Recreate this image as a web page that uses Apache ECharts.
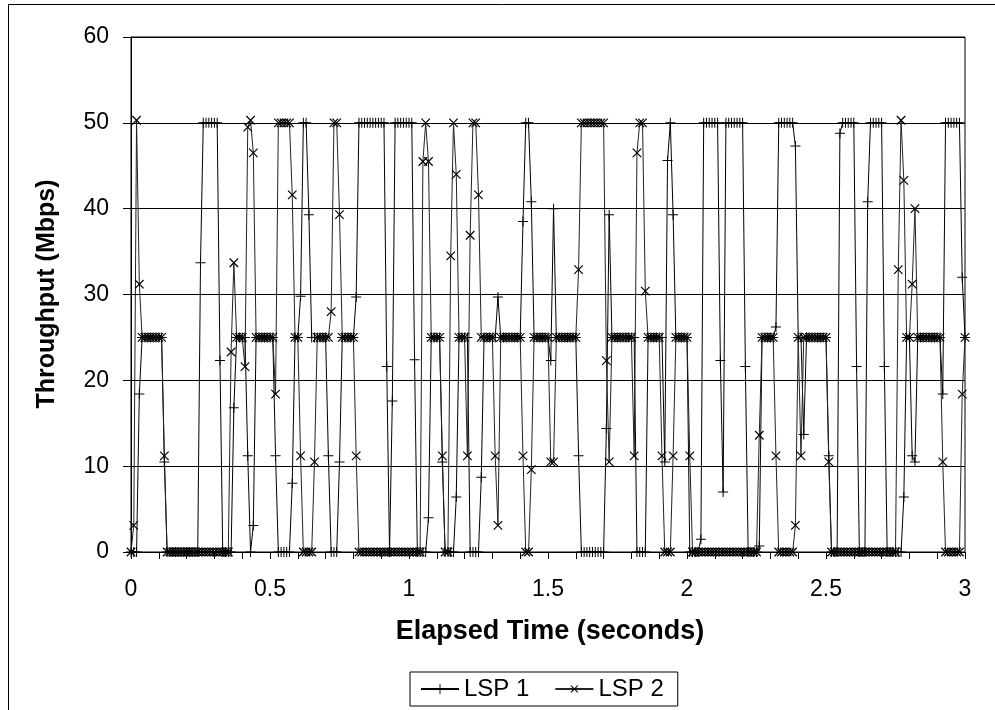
<!DOCTYPE html>
<html>
<head>
<meta charset="utf-8">
<script src="https://cdn.jsdelivr.net/npm/echarts@6/dist/echarts.min.js"></script>
<style>
html,body{margin:0;padding:0;background:#fff;}
#chart{width:995px;height:710px;}
</style>
</head>
<body>
<div id="chart"></div>
<script>
// Sample spacing (seconds) of the throughput measurements
const sampleStep = 0.01;

// LSP 1 throughput (Mbps), one value per sample, t = 0 .. 3.00 s
const lsp1 = [
  0,0,0,18.4,25,25,25,25,25,25,
  25,25,10.5,0,0,0,0,0,0,0,
  0,0,0,0,0,33.7,50,50,50,50,
  50,50,22.3,0,0,0,0,16.8,25,25,
  25,25,11.2,0,3.1,25,25,25,25,25,
  25,25,11.2,0,0,0,0,0,8,25,
  25,29.8,50,50,39.3,25,25,25,25,25,
  25,11.2,0,0,0,10.5,25,25,25,25,
  25,29.7,50,50,50,50,50,50,50,50,
  50,50,21.6,0,17.6,50,50,50,50,50,
  50,50,22.4,0,0,0,0,4,25,25,
  25,25,10.5,0,0,0,0,6.4,25,25,
  25,25,0,0,0,0,8.7,25,25,25,
  25,25,29.7,25,25,25,25,25,25,25,
  25,38.5,50,50,40.8,25,25,25,25,25,
  25,22.3,40,25,25,25,25,25,25,25,
  25,11.2,0,0,0,0,0,0,0,0,
  0,14.4,39.3,25,25,25,25,25,25,25,
  25,25,0,0,0,0,25,25,25,25,
  25,25,10.5,45.6,50,39.3,25,25,25,25,
  25,0,0,0,0,1.5,50,50,50,50,
  50,50,22.3,7,50,50,50,50,50,50,
  50,21.6,0,0,0,0,0.7,25,25,25,
  25,25,26.2,50,50,50,50,50,50,47.3,
  25,25,13.7,25,25,25,25,25,25,25,
  25,11.2,0,0,0,48.8,50,50,50,50,
  50,21.6,0,0,0,40.8,50,50,50,50,
  50,21.6,0,0,0,0,0,0,6.4,25,
  25,11.2,10.5,25,25,25,25,25,25,25,
  25,25,18.4,50,50,50,50,50,50,32,
  25
];

// LSP 2 throughput (Mbps)
const lsp2 = [
  0,3.1,50.3,31.2,25,25,25,25,25,25,
  25,25,11.2,0,0,0,0,0,0,0,
  0,0,0,0,0,0,0,0,0,0,
  0,0,0,0,0,0,23.3,33.7,25,25,
  25,21.6,49.5,50.3,46.5,25,25,25,25,25,
  25,25,18.4,50,50,50,50,50,41.6,25,
  25,11.2,0,0,0,0,10.5,25,25,25,
  25,25,28,50,50,39.3,25,25,25,25,
  25,11.2,0,0,0,0,0,0,0,0,
  0,0,0,0,0,0,0,0,0,0,
  0,0,0,0,0,45.5,50,45.5,25,25,
  25,25,11.2,0,0,34.5,50,44,25,25,
  25,11.2,36.9,50,50,41.6,25,25,25,25,
  25,11.2,3.1,25,25,25,25,25,25,25,
  25,11.2,0,0,9.6,25,25,25,25,25,
  25,10.5,10.5,25,25,25,25,25,25,25,
  25,32.9,50,50,50,50,50,50,50,50,
  50,22.3,10.5,25,25,25,25,25,25,25,
  25,11.2,46.5,50,50,30.4,25,25,25,25,
  25,11.2,0,0,0,11.2,25,25,25,25,
  25,11.2,0,0,0,0,0,0,0,0,
  0,0,0,0,0,0,0,0,0,0,
  0,0,0,0,0,0,13.6,25,25,25,
  25,25,11.2,0,0,0,0,0,0,3.1,
  25,11.2,25,25,25,25,25,25,25,25,
  25,10.5,0,0,0,0,0,0,0,0,
  0,0,0,0,0,0,0,0,0,0,
  0,0,0,0,0,0,32.9,50.3,43.3,25,
  25,31.2,40,25,25,25,25,25,25,25,
  25,25,10.5,0,0,0,0,0,0,18.4,
  25
];

const seriesNames = ['LSP 1', 'LSP 2'];
const xTitle = 'Elapsed Time (seconds)';
const yTitle = 'Throughput (Mbps)';

function pairs(vals) {
  return vals.map((v, i) => [+(i * sampleStep).toFixed(2), v]);
}

const plusPath = 'path://M0,4.5L10,4.5L10,5.5L0,5.5Z M4.5,0L5.5,0L5.5,10L4.5,10Z';
const FONT = '"Liberation Sans", Arial, sans-serif';

const chart = echarts.init(document.getElementById('chart'), null, {renderer: 'canvas'});
chart.setOption({
  animation: false,
  backgroundColor: '#fff',
  grid: {left: 131, right: 30, top: 37, bottom: 158, show: true, borderColor: '#000', borderWidth: 1, containLabel: false},
  xAxis: {
    type: 'value', min: 0, max: 3, interval: 0.1,
    axisLine: {show: true, lineStyle: {color: '#000', width: 1}},
    axisTick: {show: true, inside: false, length: 7, lineStyle: {color: '#000'}},
    splitLine: {show: false},
    axisLabel: {
      color: '#000', fontFamily: FONT, fontSize: 23, margin: 26,
      formatter: function (v) {
        const d = v * 2;
        if (Math.abs(d - Math.round(d)) < 1e-6) return String(+(+v).toFixed(1));
        return '';
      }
    }
  },
  yAxis: {
    type: 'value', min: 0, max: 60, interval: 10,
    axisLine: {show: true, lineStyle: {color: '#000', width: 1}},
    axisTick: {show: true, inside: false, length: 8, lineStyle: {color: '#000'}},
    splitLine: {show: true, lineStyle: {color: '#000', width: 1}},
    axisLabel: {color: '#000', fontFamily: FONT, fontSize: 23, margin: 22}
  },
  legend: {
    top: 672, left: 410,
    data: seriesNames,
    borderColor: '#000', borderWidth: 1, borderRadius: 0,
    padding: [5, 14, 5, 10],
    itemWidth: 38, itemHeight: 12, itemGap: 25,
    textStyle: {color: '#000', fontFamily: FONT, fontSize: 24}
  },
  graphic: [
    {type: 'rect', shape: {x: 8.5, y: 4.5, width: 1000, height: 720}, style: {fill: 'none', stroke: '#000', lineWidth: 1}, silent: true, z: -1},
    {type: 'text', x: 550, y: 632, style: {text: xTitle, font: 'bold 27px ' + FONT, fill: '#000', textAlign: 'center', textVerticalAlign: 'middle'}},
    {type: 'text', x: 47, y: 294, rotation: Math.PI / 2, style: {text: yTitle, font: 'bold 25px ' + FONT, fill: '#000', textAlign: 'center', textVerticalAlign: 'middle'}}
  ],
  series: [
    {
      name: seriesNames[0], type: 'line', data: pairs(lsp1),
      symbol: plusPath, symbolSize: 10, showSymbol: true,
      lineStyle: {color: '#000', width: 1},
      itemStyle: {color: '#000', borderWidth: 0},
      emphasis: {disabled: true}
    },
    {
      name: seriesNames[1], type: 'line', data: pairs(lsp2),
      symbol: plusPath, symbolSize: 12, symbolRotate: 45, showSymbol: true,
      lineStyle: {color: '#222', width: 1},
      itemStyle: {color: '#000', borderWidth: 0},
      emphasis: {disabled: true}
    }
  ]
});
</script>
</body>
</html>
